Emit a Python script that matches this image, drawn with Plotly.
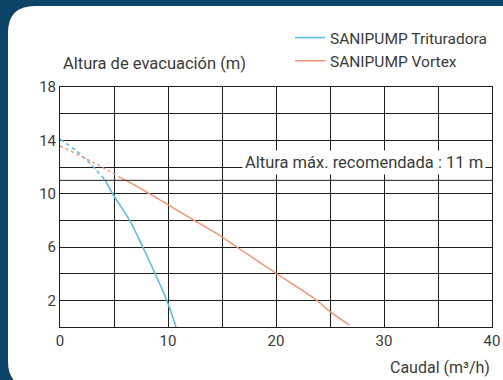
import plotly.graph_objects as go

# flow (m3/h) vs head (m)
trit_dash_x = [0, 1.39, 2.62, 4.17]
trit_dash_y = [14.08, 13.28, 12.4, 11.03]
trit_x = [4.17, 4.94, 6.42, 7.66, 8.8, 9.88, 10.74]
trit_y = [11.03, 9.9, 8.03, 6.0, 4.0, 2.0, 0.0]

vort_dash_x = [0, 3.24, 5.6]
vort_dash_y = [13.58, 12.28, 11.2]
vort_x = [5.6, 6.94, 9.26, 12.35, 14.97, 16.36, 20, 23.77, 25, 26.8]
vort_y = [11.2, 10.62, 9.53, 8.03, 6.77, 6.0, 4.03, 2.0, 1.15, 0.15]

max_head = 11
x_ticks = [0, 10, 20, 30, 40]
y_ticks = [2, 6, 10, 14, 18]

BLUE = '#5bbde8'
ORANGE = '#f7906e'
NAVY = '#0c4467'
TXT = '#3a3a3a'
GRID = '#1e1e1e'
FONT = 'Roboto'

W, H = 503, 380
L, R, T, B = 60, 11, 87, 53


def px(x, y):
    # pixel position -> paper coords
    return (x - L) / (W - L - R), (H - B - y) / (H - T - B)


def card_path():
    pts = [('M', (8, 33)), ('Q', (8, 6), (35, 6)), ('L', (540, 6)), ('L', (540, 420)),
           ('L', (35, 388)), ('Q', (8, 388), (8, 361)), ('Z',)]
    out = []
    for p in pts:
        out.append(p[0] + ' ' + ' '.join('%.4f,%.4f' % px(*q) for q in p[1:]))
    return ' '.join(out)


traces = []
traces.append(go.Scatter(x=trit_x, y=trit_y, mode='lines', name='SANIPUMP Trituradora',
                         line=dict(color=BLUE, width=1.6, shape='spline')))
traces.append(go.Scatter(x=vort_x, y=vort_y, mode='lines', name='SANIPUMP Vortex',
                         line=dict(color=ORANGE, width=1.4, shape='spline')))
traces.append(go.Scatter(x=trit_dash_x, y=trit_dash_y, mode='lines', showlegend=False,
                         line=dict(color=BLUE, width=1.6, dash='4px,3px', shape='spline')))
traces.append(go.Scatter(x=vort_dash_x, y=vort_dash_y, mode='lines', showlegend=False,
                         line=dict(color=ORANGE, width=1.4, dash='3px,3px', shape='spline')))

fig = go.Figure(data=traces)

axis_common = dict(showgrid=True, gridcolor=GRID, gridwidth=1, zeroline=False,
                   showline=True, mirror=True, linecolor=GRID, linewidth=1,
                   automargin=False, ticks='',
                   tickfont=dict(size=15, color=TXT, family=FONT))

fig.update_xaxes(range=[0, 40], tickvals=x_ticks,
                 minor=dict(tick0=0, dtick=5, showgrid=True, gridcolor=GRID, gridwidth=1),
                 **axis_common)
fig.update_yaxes(range=[0, 18], tickvals=y_ticks,
                 minor=dict(tick0=0, dtick=2, showgrid=True, gridcolor=GRID, gridwidth=1),
                 **axis_common)

fig.add_shape(type='path', xref='paper', yref='paper', path=card_path(),
              fillcolor='white', line=dict(width=0), layer='below')
fig.add_shape(type='line', xref='x', yref='y', x0=0, x1=40, y0=max_head, y1=max_head,
              line=dict(color=GRID, width=1))

fig.add_annotation(x=39.45, y=12.35, xref='x', yref='y', xanchor='right', yanchor='middle',
                   text='Altura máx. recomendada : %d m' % max_head, showarrow=False,
                   bgcolor='white', borderpad=2, font=dict(size=16.5, color=TXT, family=FONT))
fig.add_annotation(x=px(61, 64)[0], y=px(61, 64)[1], xref='paper', yref='paper',
                   xanchor='left', yanchor='middle', text='Altura de evacuación (m)',
                   showarrow=False, font=dict(size=16.5, color=TXT, family=FONT))
fig.add_annotation(x=1, y=px(492, 367)[1], xref='paper', yref='paper',
                   xanchor='right', yanchor='middle', text='Caudal (m³/h)',
                   showarrow=False, font=dict(size=16, color=TXT, family=FONT))

fig.update_layout(
    width=W, height=H, autosize=False,
    margin=dict(l=L, r=R, t=T, b=B, autoexpand=False),
    paper_bgcolor=NAVY, plot_bgcolor='white',
    font=dict(family=FONT, color=TXT, size=14),
    legend=dict(x=1.0, xanchor='right', y=px(0, 21)[1], yanchor='top',
                bgcolor='rgba(0,0,0,0)', font=dict(size=15.5, color=TXT, family=FONT),
                tracegroupgap=0, itemwidth=30),
)

# page body margin would shift the figure by 8px
fig.write_html("out.html", config={'displayModeBar': False},
               post_script="document.body.style.margin='0';")
